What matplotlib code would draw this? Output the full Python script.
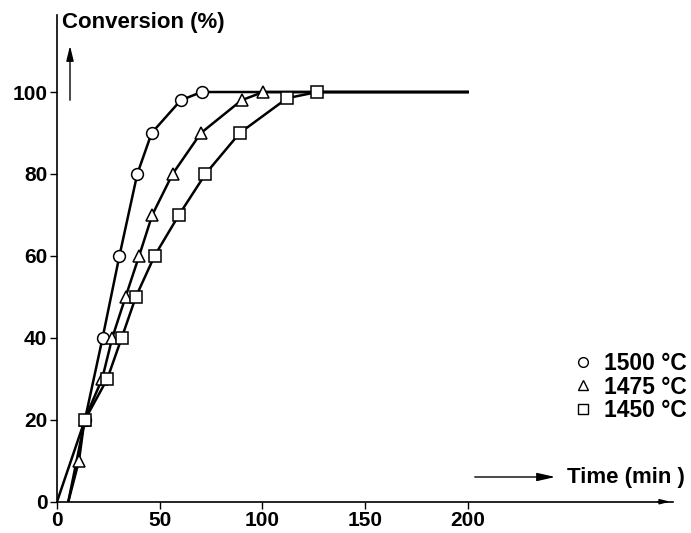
import matplotlib
matplotlib.use("Agg")
import matplotlib.pyplot as plt
from matplotlib.lines import Line2D

plt.rcParams["font.family"] = ["Liberation Sans", "DejaVu Sans"]
plt.rcParams["font.weight"] = "bold"

# measured points (time in min, conversion in %)
t_1500 = [13.6, 22.2, 30.4, 39.1, 46.1, 60.3, 70.4]
c_1500 = [20, 40, 60, 80, 90, 98, 100]
t_1475 = [10.7, 13.4, 22.0, 26.9, 33.4, 40.0, 46.4, 56.3, 70.1, 89.9, 100.4]
c_1475 = [10, 20, 30, 40, 50, 60, 70, 80, 90, 98, 100]
t_1450 = [13.6, 24.5, 31.5, 38.4, 47.5, 59.4, 72.3, 89.0, 112.1, 126.8]
c_1450 = [20, 30, 40, 50, 60, 70, 80, 90, 98.5, 100]

# where the drawn curves start and end
start_1500 = 0.0
start_other = 5.5
t_end = 200

series = [
    ("1500 °C", "o", t_1500, c_1500, start_1500),
    ("1475 °C", "^", t_1475, c_1475, start_other),
    ("1450 °C", "s", t_1450, c_1450, start_other),
]

W, H = 691, 533
fig = plt.figure(figsize=(W / 100, H / 100), dpi=100)
ax = fig.add_axes([57 / W, (H - 501.7) / H, 616 / W, (501.7 - 15) / H])

for label, mk, t, c, t0 in series:
    ax.plot([t0] + t + [t_end], [0] + c + [100], color="black", lw=1.8,
            solid_joinstyle="round", zorder=2)
    ax.plot(t, c, ls="none", marker=mk, ms=8.5, mfc="white", mec="black",
            mew=1.1, zorder=3, clip_on=False)

ax.set_xlim(0, 300)
ax.set_ylim(0, 118.8)
ax.set_xticks([0, 50, 100, 150, 200])
ax.set_yticks([0, 20, 40, 60, 80, 100])
ax.tick_params(direction="out", length=5, width=1, labelsize=15, pad=2)
for lab in ax.get_xticklabels() + ax.get_yticklabels():
    lab.set_fontweight("bold")
ax.spines["top"].set_visible(False)
ax.spines["right"].set_visible(False)
ax.spines["left"].set_linewidth(1.2)
ax.spines["bottom"].set_linewidth(1.2)

# small arrow tip at the end of the time axis
ax.annotate("", xy=(1.0, 0), xytext=(0.97, 0), xycoords="axes fraction",
            arrowprops=dict(arrowstyle="-|>,head_length=0.6,head_width=0.15",
                            color="black", lw=1.0), annotation_clip=False)

# axis titles with arrows
fig.text(62 / W, (H - 22) / H, "Conversion (%)", fontsize=16, fontweight="bold",
         ha="left", va="center")
fig.add_artist(matplotlib.patches.FancyArrowPatch(
    (70 / W, (H - 103) / H), (70 / W, (H - 43) / H), transform=fig.transFigure,
    arrowstyle="-|>,head_length=9,head_width=2.2", color="black", lw=1.0))

fig.text(567 / W, (H - 477) / H, "Time (min )", fontsize=16, fontweight="bold",
         ha="left", va="center")
fig.add_artist(matplotlib.patches.FancyArrowPatch(
    (472 / W, (H - 477) / H), (558 / W, (H - 477) / H), transform=fig.transFigure,
    arrowstyle="-|>,head_length=11,head_width=2.5", color="black", lw=1.0))

handles = [Line2D([], [], ls="none", marker=mk, ms=7, mfc="white", mec="black",
                  mew=1.0, label=label) for label, mk, *_ in series]
leg = fig.legend(handles=handles, loc="center left",
                 bbox_to_anchor=(563 / W, (H - 387) / H), frameon=False,
                 handlelength=0.75, handletextpad=0.55, labelspacing=0.02,
                 borderpad=0, prop={"size": 16.5, "weight": "bold"})

fig.savefig("out.png", dpi=100)
